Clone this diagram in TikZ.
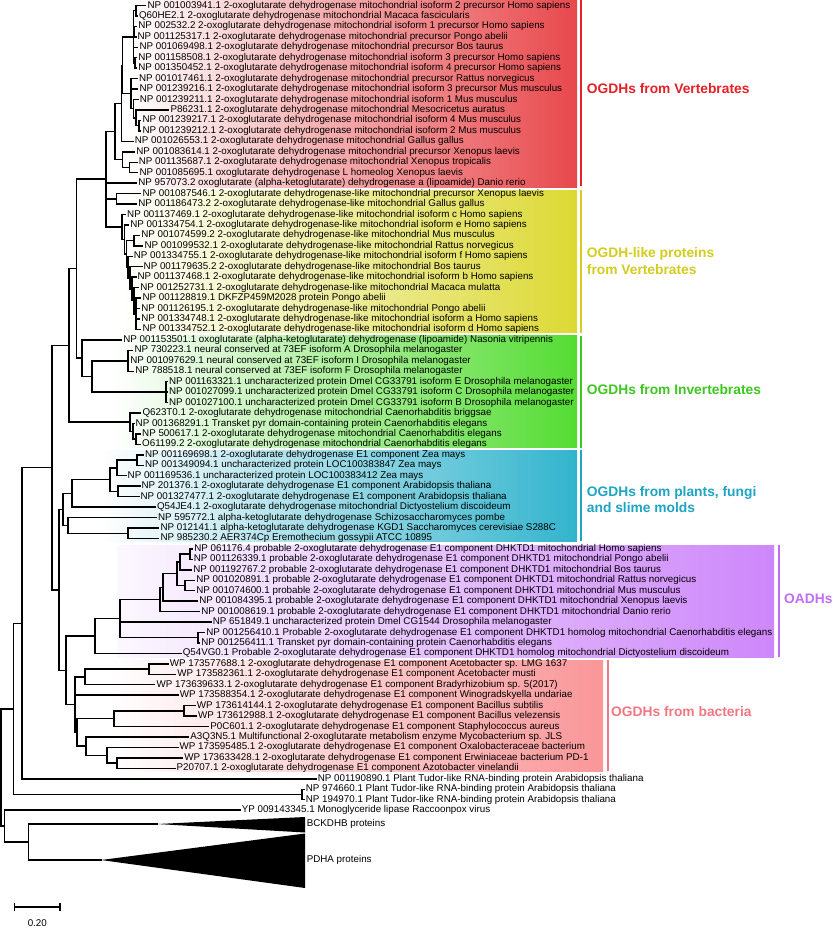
\documentclass[tikz,border=0pt]{standalone}
\usepackage{fontspec}
\setmainfont{Liberation Sans}
\usetikzlibrary{calc}
\definecolor{redB}{RGB}{232,72,76}
\definecolor{yelB}{RGB}{220,217,52}
\definecolor{grnB}{RGB}{84,220,50}
\definecolor{cyaB}{RGB}{50,180,205}
\definecolor{purB}{RGB}{205,135,250}
\definecolor{pnkB}{RGB}{249,150,152}
\definecolor{redL}{RGB}{228,32,40}
\definecolor{yelL}{RGB}{212,204,30}
\definecolor{grnL}{RGB}{60,200,30}
\definecolor{cyaL}{RGB}{30,165,195}
\definecolor{purL}{RGB}{195,110,240}
\definecolor{pnkL}{RGB}{240,120,130}
\newcommand\lf[3]{\coordinate (t#1) at (#2,{5.5+10.45*(#1-1)});
  \node[leaf] (l#1) at (t#1) {#3};}
\newcommand\tn[5]{%
  \path ($(#3)!.5!(#4)$) coordinate (m#1);
  \coordinate (x#1) at (#2,0);
  \coordinate (#1) at (x#1 |- m#1);
  \foreach \ch in {#5} {\draw[brs] (#1) |- (\ch);}}
\begin{document}
\begin{tikzpicture}[x=1pt,y=-1pt,
  leaf/.style={anchor=west,inner xsep=1.6pt,inner ysep=0pt,text height=7pt,text depth=2pt,font=\fontsize{9.8}{10}\selectfont},
  brs/.style={line width=1.45pt,line cap=rect},
  grp/.style={anchor=west,font=\fontsize{13.8}{16.5}\selectfont\bfseries,align=left,inner sep=0pt},
  bar/.style={line width=1.8pt}]
\useasboundingbox[fill=white] (0,0) rectangle (833,930);
% coloured group boxes
\shade[left color=white,right color=redB] (128,0) rectangle (577,187);
\shade[left color=white,right color=yelB] (120,190) rectangle (577,332.5);
\shade[left color=white,right color=grnB] (112,335.5) rectangle (577,447.5);
\shade[left color=white,right color=cyaB] (100,450) rectangle (577,541);
\shade[left color=purB!6,right color=purB] (117,545) rectangle (774,657);
\shade[left color=white,right color=pnkB] (110,660) rectangle (603,771);
\draw[bar,redL] (581,0) -- (581,186);
\draw[bar,yelL] (581,190) -- (581,332.5);
\draw[bar,grnL] (581,335.5) -- (581,447.5);
\draw[bar,cyaL] (581,450) -- (581,541);
\draw[bar,purL] (779,545) -- (779,657);
\draw[bar,pnkL] (608,660) -- (608,771);
\node[grp,text=redL] (g1) at (586.7,89) {OGDHs from Vertebrates};
\node[grp,text=yelL] (g2) at (586.7,261) {OGDH-like proteins\\from Vertebrates};
\node[grp,text=grnL] (g3) at (586.7,389.3) {OGDHs from Invertebrates};
\node[grp,text=cyaL] (g4) at (586.7,499.7) {OGDHs from plants, fungi\\and slime molds};
\node[grp,text=purL] (g5) at (784,598.3) {OADHs};
\node[grp,text=pnkL] (g6) at (611,712) {OGDHs from bacteria};
% leaves
\lf{1}{145.7}{NP 001003941.1 2-oxoglutarate dehydrogenase mitochondrial isoform 2 precursor Homo sapiens}
\lf{2}{137.3}{Q60HE2.1 2-oxoglutarate dehydrogenase mitochondrial Macaca fascicularis}
\lf{3}{136.5}{NP 002532.2 2-oxoglutarate dehydrogenase mitochondrial isoform 1 precursor Homo sapiens}
\lf{4}{135.8}{NP 001125317.1 2-oxoglutarate dehydrogenase mitochondrial precursor Pongo abelii}
\lf{5}{137.7}{NP 001069498.1 2-oxoglutarate dehydrogenase mitochondrial precursor Bos taurus}
\lf{6}{136.5}{NP 001158508.1 2-oxoglutarate dehydrogenase mitochondrial isoform 3 precursor Homo sapiens}
\lf{7}{136.5}{NP 001350452.1 2-oxoglutarate dehydrogenase mitochondrial isoform 4 precursor Homo sapiens}
\lf{8}{137.3}{NP 001017461.1 2-oxoglutarate dehydrogenase mitochondrial precursor Rattus norvegicus}
\lf{9}{137.7}{NP 001239216.1 2-oxoglutarate dehydrogenase mitochondrial isoform 3 precursor Mus musculus}
\lf{10}{138}{NP 001239211.1 2-oxoglutarate dehydrogenase mitochondrial isoform 1 Mus musculus}
\lf{11}{168.7}{P86231.1 2-oxoglutarate dehydrogenase mitochondrial Mesocricetus auratus}
\lf{12}{140.7}{NP 001239217.1 2-oxoglutarate dehydrogenase mitochondrial isoform 4 Mus musculus}
\lf{13}{140.7}{NP 001239212.1 2-oxoglutarate dehydrogenase mitochondrial isoform 2 Mus musculus}
\lf{14}{133}{NP 001026553.1 2-oxoglutarate dehydrogenase mitochondrial Gallus gallus}
\lf{15}{134.6}{NP 001083614.1 2-oxoglutarate dehydrogenase mitochondrial precursor Xenopus laevis}
\lf{16}{137}{NP 001135687.1 2-oxoglutarate dehydrogenase mitochondrial Xenopus tropicalis}
\lf{17}{137.7}{NP 001085695.1 oxoglutarate dehydrogenase L homeolog Xenopus laevis}
\lf{18}{136.5}{NP 957073.2 oxoglutarate (alpha-ketoglutarate) dehydrogenase a (lipoamide) Danio rerio}
\lf{19}{140.7}{NP 001087546.1 2-oxoglutarate dehydrogenase-like mitochondrial precursor Xenopus laevis}
\lf{20}{136.5}{NP 001186473.2 2-oxoglutarate dehydrogenase-like mitochondrial Gallus gallus}
\lf{21}{125.4}{NP 001137469.1 2-oxoglutarate dehydrogenase-like mitochondrial isoform c Homo sapiens}
\lf{22}{128.5}{NP 001334754.1 2-oxoglutarate dehydrogenase-like mitochondrial isoform e Homo sapiens}
\lf{23}{139.6}{NP 001074599.2 2-oxoglutarate dehydrogenase-like mitochondrial Mus musculus}
\lf{24}{142.7}{NP 001099532.1 2-oxoglutarate dehydrogenase-like mitochondrial Rattus norvegicus}
\lf{25}{132}{NP 001334755.1 2-oxoglutarate dehydrogenase-like mitochondrial isoform f Homo sapiens}
\lf{26}{141.9}{NP 001179635.2 2-oxoglutarate dehydrogenase-like mitochondrial Bos taurus}
\lf{27}{135.8}{NP 001137468.1 2-oxoglutarate dehydrogenase-like mitochondrial isoform b Homo sapiens}
\lf{28}{138.5}{NP 001252731.1 2-oxoglutarate dehydrogenase-like mitochondrial Macaca mulatta}
\lf{29}{140.7}{NP 001128819.1 DKFZP459M2028 protein Pongo abelii}
\lf{30}{139.6}{NP 001126195.1 2-oxoglutarate dehydrogenase-like mitochondrial Pongo abelii}
\lf{31}{139.6}{NP 001334748.1 2-oxoglutarate dehydrogenase-like mitochondrial isoform a Homo sapiens}
\lf{32}{140.7}{NP 001334752.1 2-oxoglutarate dehydrogenase-like mitochondrial isoform d Homo sapiens}
\lf{33}{121.6}{NP 001153501.1 oxoglutarate (alpha-ketoglutarate) dehydrogenase (lipoamide) Nasonia vitripennis}
\lf{34}{132.7}{NP 730223.1 neural conserved at 73EF isoform A Drosophila melanogaster}
\lf{35}{128.5}{NP 001097629.1 neural conserved at 73EF isoform I Drosophila melanogaster}
\lf{36}{133.5}{NP 788518.1 neural conserved at 73EF isoform F Drosophila melanogaster}
\lf{37}{167.2}{NP 001163321.1 uncharacterized protein Dmel CG33791 isoform E Drosophila melanogaster}
\lf{38}{167.2}{NP 001027099.1 uncharacterized protein Dmel CG33791 isoform C Drosophila melanogaster}
\lf{39}{167.2}{NP 001027100.1 uncharacterized protein Dmel CG33791 isoform B Drosophila melanogaster}
\lf{40}{140.7}{Q623T0.1 2-oxoglutarate dehydrogenase mitochondrial Caenorhabditis briggsae}
\lf{41}{133.9}{NP 001368291.1 Transket pyr domain-containing protein Caenorhabditis elegans}
\lf{42}{140.4}{NP 500617.1 2-oxoglutarate dehydrogenase mitochondrial Caenorhabditis elegans}
\lf{43}{140.4}{O61199.2 2-oxoglutarate dehydrogenase mitochondrial Caenorhabditis elegans}
\lf{44}{143.3}{NP 001169698.1 2-oxoglutarate dehydrogenase E1 component Zea mays}
\lf{45}{143.3}{NP 001349094.1 uncharacterized protein LOC100383847 Zea mays}
\lf{46}{125.9}{NP 001169536.1 uncharacterized protein LOC100383412 Zea mays}
\lf{47}{139.8}{NP 201376.1 2-oxoglutarate dehydrogenase E1 component Arabidopsis thaliana}
\lf{48}{138.8}{NP 001327477.1 2-oxoglutarate dehydrogenase E1 component Arabidopsis thaliana}
\lf{49}{155.2}{Q54JE4.1 2-oxoglutarate dehydrogenase mitochondrial Dictyostelium discoideum}
\lf{50}{156.2}{NP 595772.1 alpha-ketoglutarate dehydrogenase Schizosaccharomyces pombe}
\lf{51}{158.7}{NP 012141.1 alpha-ketoglutarate dehydrogenase KGD1 Saccharomyces cerevisiae S288C}
\lf{52}{158.7}{NP 985230.2 AER374Cp Eremothecium gossypii ATCC 10895}
\lf{53}{192.5}{NP 061176.4 probable 2-oxoglutarate dehydrogenase E1 component DHKTD1 mitochondrial Homo sapiens}
\lf{54}{192}{NP 001126339.1 probable 2-oxoglutarate dehydrogenase E1 component DHKTD1 mitochondrial Pongo abelii}
\lf{55}{191.5}{NP 001192767.2 probable 2-oxoglutarate dehydrogenase E1 component DHKTD1 mitochondrial Bos taurus}
\lf{56}{194.5}{NP 001020891.1 probable 2-oxoglutarate dehydrogenase E1 component DHKTD1 mitochondrial Rattus norvegicus}
\lf{57}{194.5}{NP 001074600.1 probable 2-oxoglutarate dehydrogenase E1 component DHKTD1 mitochondrial Mus musculus}
\lf{58}{197.5}{NP 001084395.1 probable 2-oxoglutarate dehydrogenase E1 component DHKTD1 mitochondrial Xenopus laevis}
\lf{59}{199.5}{NP 001008619.1 probable 2-oxoglutarate dehydrogenase E1 component DHKTD1 mitochondrial Danio rerio}
\lf{60}{211}{NP 651849.1 uncharacterized protein Dmel CG1544 Drosophila melanogaster}
\lf{61}{204.5}{NP 001256410.1 Probable 2-oxoglutarate dehydrogenase E1 component DHKTD1 homolog mitochondrial Caenorhabditis elegans}
\lf{62}{199.5}{NP 001256411.1 Transket pyr domain-containing protein Caenorhabditis elegans}
\lf{63}{181}{Q54VG0.1 Probable 2-oxoglutarate dehydrogenase E1 component DHKTD1 homolog mitochondrial Dictyostelium discoideum}
\lf{64}{168}{WP 173577688.1 2-oxoglutarate dehydrogenase E1 component Acetobacter sp. LMG 1637}
\lf{65}{175.6}{WP 173582361.1 2-oxoglutarate dehydrogenase E1 component Acetobacter musti}
\lf{66}{154.7}{WP 173639633.1 2-oxoglutarate dehydrogenase E1 component Bradyrhizobium sp. 5(2017)}
\lf{67}{178}{WP 173588354.1 2-oxoglutarate dehydrogenase E1 component Winogradskyella undariae}
\lf{68}{195}{WP 173614144.1 2-oxoglutarate dehydrogenase E1 component Bacillus subtilis}
\lf{69}{196.2}{WP 173612988.1 2-oxoglutarate dehydrogenase E1 component Bacillus velezensis}
\lf{70}{208.5}{P0C601.1 2-oxoglutarate dehydrogenase E1 component Staphylococcus aureus}
\lf{71}{188.6}{A3Q3N5.1 Multifunctional 2-oxoglutarate metabolism enzyme Mycobacterium sp. JLS}
\lf{72}{177.9}{WP 173595485.1 2-oxoglutarate dehydrogenase E1 component Oxalobacteraceae bacterium}
\lf{73}{182.5}{WP 173633428.1 2-oxoglutarate dehydrogenase E1 component Erwiniaceae bacterium PD-1}
\lf{74}{174.8}{P20707.1 2-oxoglutarate dehydrogenase E1 component Azotobacter vinelandii}
\lf{75}{316}{NP 001190890.1 Plant Tudor-like RNA-binding protein Arabidopsis thaliana}
\lf{76}{304}{NP 974660.1 Plant Tudor-like RNA-binding protein Arabidopsis thaliana}
\lf{77}{304}{NP 194970.1 Plant Tudor-like RNA-binding protein Arabidopsis thaliana}
\lf{78}{240}{YP 009143345.1 Monoglyceride lipase Raccoonpox virus}
% collapsed clades
\coordinate (bck) at (157,824);
\coordinate (pdh) at (101,860);
\fill (bck) -- (305,817) -- (305,832.5) -- cycle;
\fill (pdh) -- (305,833.5) -- (305,888) -- cycle;
\node[leaf] (lbck) at (305,824) {BCKDHB proteins};
\node[leaf] (lpdh) at (305,860) {PDHA proteins};
% vertebrate OGDH
\tn{a1}{136}{t1}{t2}{t1,t2}
\tn{a2}{134.5}{t3}{t4}{t3,t4}
\tn{a3}{135}{t6}{t7}{t6,t7}
\tn{a4}{133.5}{a1}{a3}{a1,a2,t5,a3}
\tn{a7}{139}{t12}{t13}{t12,t13}
\tn{a6}{136}{t11}{a7}{t11,a7}
\tn{a8}{133.5}{t10}{a6}{t10,a6}
\tn{a9}{131}{t8}{a8}{t8,t9,a8}
\tn{a10}{122.5}{a4}{a9}{a4,a9}
\tn{a11}{121.5}{a10}{t14}{a10,t14}
\tn{x1}{129.5}{t16}{t17}{t16,t17}
\tn{x2}{122.5}{t15}{x1}{t15,x1}
\tn{a12}{115}{a11}{x2}{a11,x2}
% vertebrate OGDH-like
\tn{y1}{116.5}{t19}{t20}{t19,t20}
\tn{h8}{136}{t29}{t32}{t29,t30,t31,t32}
\tn{h7}{134}{t28}{h8}{t28,h8}
\tn{h6}{132}{t27}{h7}{t27,h7}
\tn{h5}{130}{t26}{h6}{t26,h6}
\tn{h4}{128}{t25}{h5}{t25,h5}
\tn{hm}{134}{t23}{t24}{t23,t24}
\tn{h3}{126.5}{hm}{h4}{hm,h4}
\tn{h2}{124.5}{t22}{h3}{t22,h3}
\tn{h1}{122}{t21}{h2}{t21,h2}
\tn{W}{106}{a12}{h1}{a12,t18,y1,h1}
% invertebrates
\tn{i1}{128}{t34}{t36}{t34,t35,t36}
\tn{cg}{166}{t37}{t39}{t37,t38,t39}
\tn{i3}{92}{i1}{cg}{i1,cg}
\tn{i4}{82}{t33}{i3}{t33,i3}
\tn{vt}{76.5}{W}{i4}{W,i4}
\tn{c1}{136}{t42}{t43}{t42,t43}
\tn{c2}{133}{t41}{c1}{t41,c1}
\tn{c3}{130}{t40}{c2}{t40,c2}
\tn{iv}{69}{vt}{c3}{vt,c3}
% plants, fungi, slime molds
\tn{z1}{137}{t44}{t45}{t44,t45}
\tn{z2}{117}{z1}{t46}{z1,t46}
\tn{z3}{118}{t47}{t48}{t47,t48}
\tn{z4}{110}{z2}{z3}{z2,z3}
\tn{z5}{72}{z4}{t49}{z4,t49}
\tn{f1}{128}{t51}{t52}{t51,t52}
\tn{f2}{68}{t50}{f1}{t50,f1}
\tn{z6}{63}{z5}{f2}{z5,f2}
% OADH
\tn{p1}{190}{t53}{t54}{t53,t54}
\tn{p2}{180}{p1}{t55}{p1,t55}
\tn{p3}{185}{t56}{t57}{t56,t57}
\tn{p4}{177}{p2}{p3}{p2,p3}
\tn{p5}{163}{p4}{t58}{p4,t58}
\tn{p6}{160}{p5}{t59}{p5,t59}
\tn{n1}{198}{t61}{t62}{t61,t62}
\tn{p7}{120}{p6}{n1}{p6,t60,n1}
\tn{p9}{95}{p7}{t63}{p7,t63}
% bacteria
\tn{b1}{149}{t64}{t65}{t64,t65}
\tn{b2}{85}{b1}{t66}{b1,t66}
\tn{b3}{184}{t68}{t69}{t68,t69}
\tn{b4}{114}{b3}{t70}{b3,t70}
\tn{b5}{117}{t73}{t74}{t73,t74}
\tn{b6}{107}{t72}{b5}{t72,b5}
\tn{b8}{86}{t71}{b6}{t71,b6}
\tn{b9}{77}{b4}{b8}{b4,b8}
\tn{b10}{75}{b2}{b9}{b2,t67,b9}
% backbone
\tn{q1}{66}{p9}{b10}{p9,b10}
\tn{zc}{59}{z6}{q1}{z6,q1}
\tn{e1}{52}{iv}{zc}{iv,zc}
\tn{T1}{22}{e1}{t75}{e1,t75}
\tn{tt}{302}{t76}{t77}{t76,t77}
\tn{T2}{13.4}{T1}{tt}{T1,tt}
\tn{bp}{28.7}{bck}{pdh}{bck,pdh}
\tn{n4}{4.5}{t78}{bp}{t78,bp}
\tn{rt}{1.2}{T2}{n4}{T2,n4}
% scale bar
\coordinate (s1) at (14.5,907);
\coordinate (s2) at (60,907);
\draw[line width=1.3pt] (s1) -- (s2);
\draw[line width=1.3pt] ($(s1)+(0,-4)$) -- ($(s1)+(0,4)$);
\draw[line width=1.3pt] ($(s2)+(0,-4)$) -- ($(s2)+(0,4)$);
\node[font=\fontsize{9.8}{10}\selectfont,inner sep=0pt] (sl) at (37.3,923) {0.20};
\end{tikzpicture}
\end{document}
